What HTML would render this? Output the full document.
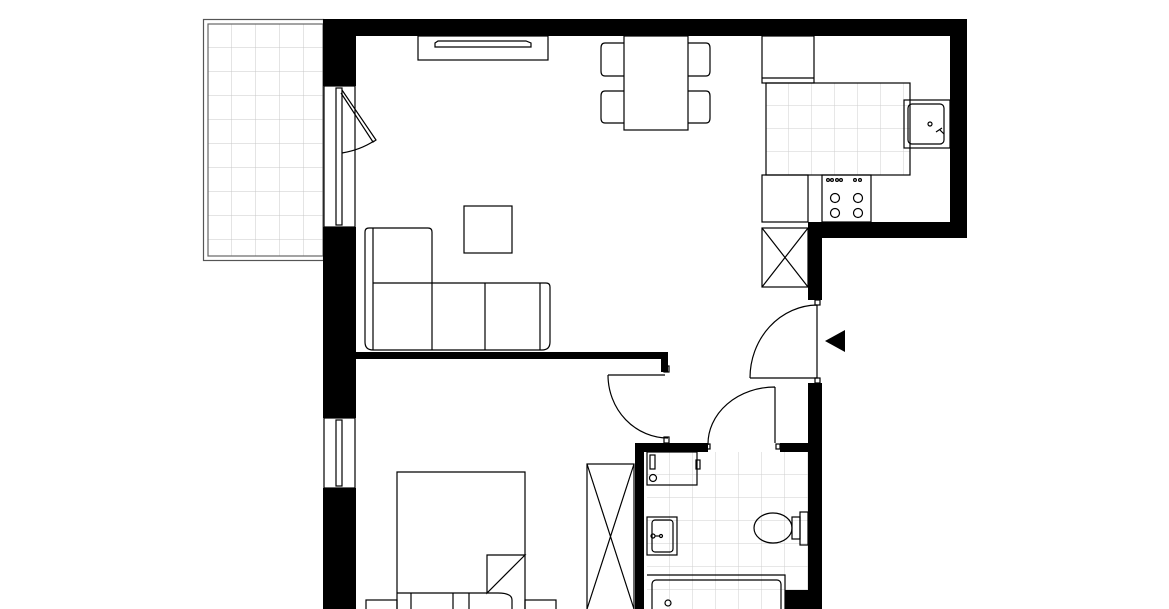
<!DOCTYPE html>
<html><head><meta charset="utf-8"><style>html,body{margin:0;padding:0;background:#fff;width:1169px;height:609px;overflow:hidden}</style></head>
<body>
<svg width="1169" height="609" viewBox="0 0 1169 609" xmlns="http://www.w3.org/2000/svg">
<defs>
<pattern id="tile" width="24" height="24" patternUnits="userSpaceOnUse" x="208" y="24">
<path d="M24 0V24M0 24H24" stroke="#c8c8c8" stroke-width="1" fill="none"/></pattern>
<pattern id="tile2" width="23" height="23" patternUnits="userSpaceOnUse" x="766" y="83">
<path d="M23 0V23M0 23H23" stroke="#cfcfcf" stroke-width="1" fill="none"/></pattern>
<pattern id="tile3" width="23" height="23" patternUnits="userSpaceOnUse" x="647" y="452">
<path d="M23 0V23M0 23H23" stroke="#cfcfcf" stroke-width="1" fill="none"/></pattern>
</defs>
<g fill="none" stroke="#000" stroke-width="1.2">
<!-- balcony -->
<rect x="203.5" y="19.5" width="120" height="241" stroke="#555"/>
<rect x="208" y="24" width="115" height="232" fill="url(#tile)" stroke="#666"/>
<!-- kitchen tiles -->
<rect x="766" y="83" width="144" height="92" fill="url(#tile2)"/>
<!-- bathroom tiles -->
<rect x="647" y="452" width="161" height="157" fill="url(#tile3)" stroke="none"/>
</g>
<!-- walls -->
<g fill="#000">
<rect x="323" y="19" width="644" height="17"/>
<rect x="323" y="19" width="33" height="67"/>
<rect x="323" y="227" width="33" height="191"/>
<rect x="323" y="488" width="33" height="121"/>
<rect x="950" y="19" width="17" height="219"/>
<rect x="808" y="222" width="159" height="16"/>
<rect x="808" y="222" width="14" height="78"/>
<rect x="808" y="383" width="14" height="226"/>
<rect x="356" y="352" width="312" height="7"/>
<rect x="661" y="352" width="7" height="20"/>
<rect x="635" y="443" width="73" height="9"/>
<rect x="780" y="443" width="28" height="9"/>
<rect x="635" y="443" width="9" height="166"/>
<rect x="785" y="590" width="23" height="19"/>
<polygon points="825,341 845,330 845,352"/>
</g>
<g fill="none" stroke="#000" stroke-width="1.2">
<!-- balcony door -->
<rect x="324" y="86" width="31" height="141" fill="#fff"/>
<rect x="336" y="88" width="6" height="137"/>
<path d="M342 90 L376 140 L373 142 L341 93"/>
<path d="M374 141 Q360 150 342 153"/>
<!-- lower window -->
<rect x="324" y="418" width="31" height="70" fill="#fff"/>
<rect x="336" y="420" width="6" height="66"/>
<!-- tv unit -->
<rect x="418" y="36" width="130" height="24"/>
<path d="M435 43 L438 41 L526 41 L531 43 L531 47 L435 47 Z"/>
<!-- table & chairs -->
<rect x="624" y="36" width="64" height="94"/>
<path d="M624 43 H605 Q601 43 601 48 V71 Q601 76 605 76 H624"/>
<path d="M624 91 H605 Q601 91 601 96 V118 Q601 123 605 123 H624"/>
<path d="M688 43 H706 Q710 43 710 48 V71 Q710 76 706 76 H688"/>
<path d="M688 91 H706 Q710 91 710 96 V118 Q710 123 706 123 H688"/>
<!-- fridge -->
<rect x="762" y="36" width="52" height="47"/>
<path d="M762 78 H814"/>
<!-- sink -->
<rect x="904" y="100" width="46" height="48"/>
<rect x="908" y="104" width="36" height="40" rx="4"/>
<circle cx="930" cy="124" r="2"/>
<path d="M936 132 L942 128 M940 130 l4 4"/>
<!-- lower counter and stove -->
<rect x="762" y="175" width="46" height="47"/>
<rect x="822" y="175" width="49" height="47"/>
<circle cx="835" cy="198" r="4.5"/><circle cx="858" cy="198" r="4.5"/>
<circle cx="835" cy="213" r="4.5"/><circle cx="858" cy="213" r="4.5"/>
<circle cx="828" cy="180" r="1.4"/><circle cx="832" cy="180" r="1.4"/><circle cx="837" cy="180" r="1.4"/><circle cx="841" cy="180" r="1.4"/><circle cx="855" cy="180" r="1.4"/><circle cx="860" cy="180" r="1.4"/>
<!-- shaft -->
<rect x="762" y="228" width="46" height="59"/>
<path d="M762 228 L808 287 M808 228 L762 287"/>
<!-- coffee table -->
<rect x="464" y="206" width="48" height="47"/>
<!-- sofa -->
<path d="M369 228 H428 Q432 228 432 232 V283 H546 Q550 283 550 287 V342 Q550 350 542 350 H373 Q365 350 365 342 V232 Q365 228 369 228 Z"/>
<path d="M373 228 V350 M432 283 V350 M485 283 V350 M540 283 V350 M373 283 H432"/>
<!-- entrance door -->
<path d="M817 305 V378 H750 M750 378 A68 73 0 0 1 817 305"/>
<rect x="815" y="300" width="5" height="5"/><rect x="815" y="378" width="5" height="5"/>
<!-- bedroom door -->
<path d="M608 375 H665 M608 375 A60 63 0 0 0 668 438"/>
<rect x="664" y="366" width="5" height="6"/><rect x="664" y="437" width="5" height="6"/>
<!-- bathroom door -->
<path d="M775 387 V443 M775 387 A67 57 0 0 0 708 445"/>
<rect x="706" y="444" width="4" height="5"/><rect x="776" y="444" width="4" height="5"/>
<!-- washing machine -->
<rect x="647" y="452" width="50" height="33"/>
<rect x="650" y="455" width="5" height="14"/>
<circle cx="653" cy="478" r="3.5"/>
<rect x="696" y="460" width="4" height="9"/>
<!-- bath sink -->
<rect x="647" y="517" width="30" height="38"/>
<rect x="652" y="520" width="21" height="32" rx="3"/>
<circle cx="653" cy="536" r="2"/><circle cx="661" cy="536" r="1.5"/><path d="M655 536 H660"/>
<!-- toilet -->
<rect x="800" y="512" width="8" height="33"/>
<ellipse cx="773" cy="528" rx="19" ry="15"/>
<rect x="792" y="517" width="8" height="22"/>
<!-- bathtub -->
<path d="M647 575 H785 V609"/>
<rect x="652" y="580" width="129" height="40" rx="4"/>
<circle cx="668" cy="603" r="3"/>
<!-- wardrobe -->
<rect x="587" y="464" width="47" height="150"/>
<path d="M587 464 L634 609 M634 464 L587 609"/>
<!-- bed -->
<path d="M397 609 V472 H525 V609"/>
<path d="M487 593 V555 H525 L487 593 Z"/>
<path d="M397 593 H487 M411 593 V609 M453 593 V609 M469 593 V609 M487 593 L498 593 Q512 593 512 600 V609"/>
<rect x="366" y="600" width="31" height="15"/>
<rect x="525" y="600" width="31" height="15"/>
</g>
</svg>
</body></html>
